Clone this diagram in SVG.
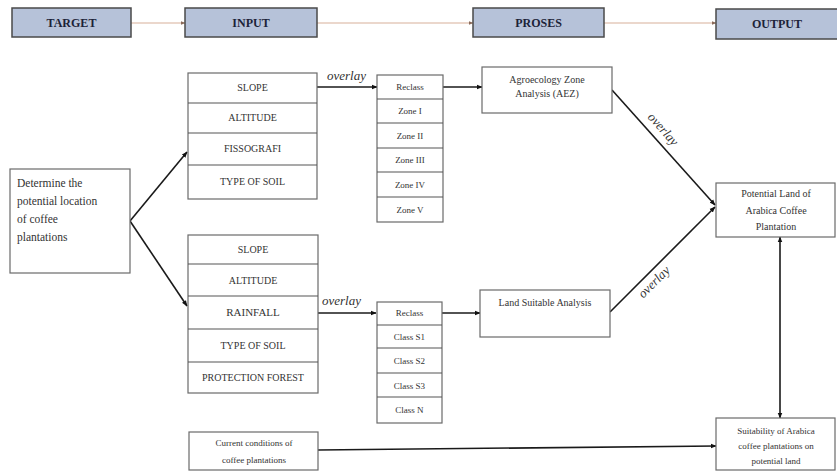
<svg xmlns="http://www.w3.org/2000/svg" width="837" height="472" viewBox="0 0 837 472">
<defs>
<marker id="ah" viewBox="0 0 10 10" refX="9" refY="5" markerWidth="6" markerHeight="6" orient="auto-start-reverse" markerUnits="userSpaceOnUse">
<path d="M0,1 L10,5 L0,9 z" fill="#111"/>
</marker>
<marker id="ahl" viewBox="0 0 10 10" refX="9" refY="5" markerWidth="5" markerHeight="5" orient="auto" markerUnits="userSpaceOnUse">
<path d="M0,1 L10,5 L0,9 z" fill="#8a6a5a"/>
</marker>
<style>
.hdr{fill:#b6c2d9;stroke:#4a4a4a;stroke-width:1.5}
.ht{font-family:"Liberation Serif",serif;font-weight:bold;font-size:12px;fill:#1c2238;text-anchor:middle}
.bx{fill:#fff;stroke:#6a6a6a;stroke-width:1.2}
.sep{stroke:#555;stroke-width:1.2}
.t{font-family:"Liberation Serif",serif;font-size:10px;fill:#333;text-anchor:middle}
.ts{font-family:"Liberation Serif",serif;font-size:9px;fill:#333;text-anchor:middle}
.tl{font-family:"Liberation Serif",serif;font-size:11.5px;fill:#333}
.ov{font-family:"Liberation Serif",serif;font-style:italic;font-size:13px;fill:#333}
.c{stroke:#1a1a1a;stroke-width:1.6;fill:none}
.hc{stroke:#d8b09a;stroke-width:1.2;fill:none}
</style>
</defs>
<rect width="837" height="472" fill="#fff"/>

<g id="connectors">
<line class="hc" x1="131" y1="23" x2="185" y2="23" marker-end="url(#ahl)"/>
<line class="hc" x1="317" y1="23" x2="473" y2="23" marker-end="url(#ahl)"/>
<line class="hc" x1="604" y1="23" x2="716" y2="23" marker-end="url(#ahl)"/>
<line class="c" x1="130" y1="221" x2="187" y2="152" marker-end="url(#ah)"/>
<line class="c" x1="130" y1="221" x2="187" y2="306" marker-end="url(#ah)"/>
<line class="c" x1="317" y1="87" x2="377" y2="87" marker-end="url(#ah)"/>
<line class="c" x1="443" y1="87" x2="482" y2="87" marker-end="url(#ah)"/>
<line class="c" x1="318" y1="313" x2="376" y2="313" marker-end="url(#ah)"/>
<line class="c" x1="442" y1="313" x2="480" y2="313" marker-end="url(#ah)"/>
<line class="c" x1="612" y1="90" x2="715" y2="205" marker-end="url(#ah)"/>
<line class="c" x1="610" y1="312" x2="715" y2="207" marker-end="url(#ah)"/>
<line class="c" x1="780" y1="237" x2="780" y2="418" marker-start="url(#ah)" marker-end="url(#ah)"/>
<line class="c" x1="318" y1="450" x2="716" y2="446" marker-end="url(#ah)"/>
<text class="ov" x="327" y="80">overlay</text>
<text class="ov" x="322" y="305">overlay</text>
<text class="ov" transform="translate(660,132) rotate(48.4)" text-anchor="middle">overlay</text>
<text class="ov" transform="translate(657,285) rotate(-45)" text-anchor="middle">overlay</text>
</g>

<g id="h-target"><rect class="hdr" x="12" y="8" width="119" height="29"/><text class="ht" x="71.5" y="27">TARGET</text></g>
<g id="h-input"><rect class="hdr" x="185" y="8" width="132" height="29"/><text class="ht" x="251" y="27">INPUT</text></g>
<g id="h-proses"><rect class="hdr" x="473" y="8" width="131" height="29"/><text class="ht" x="538.5" y="27">PROSES</text></g>
<g id="h-output"><rect class="hdr" x="716" y="9" width="125" height="30"/><text class="ht" x="777" y="28">OUTPUT</text></g>

<g id="target-box">
<rect class="bx" x="10" y="169" width="120" height="104"/>
<text class="tl" x="17" y="187">Determine the</text>
<text class="tl" x="17" y="205">potential location</text>
<text class="tl" x="17" y="223">of coffee</text>
<text class="tl" x="17" y="241">plantations</text>
</g>

<g id="input-1">
<rect class="bx" x="188" y="73" width="129" height="126"/>
<line class="sep" x1="188" y1="103" x2="317" y2="103"/>
<line class="sep" x1="188" y1="133" x2="317" y2="133"/>
<line class="sep" x1="188" y1="165" x2="317" y2="165"/>
<text class="t" x="252.5" y="91">SLOPE</text>
<text class="t" x="252.5" y="121">ALTITUDE</text>
<text class="t" x="252.5" y="152">FISSOGRAFI</text>
<text class="t" x="252.5" y="185">TYPE OF SOIL</text>
</g>

<g id="zones">
<rect class="bx" x="377" y="75" width="66" height="147"/>
<line class="sep" x1="377" y1="99" x2="443" y2="99"/>
<line class="sep" x1="377" y1="123" x2="443" y2="123"/>
<line class="sep" x1="377" y1="148" x2="443" y2="148"/>
<line class="sep" x1="377" y1="172" x2="443" y2="172"/>
<line class="sep" x1="377" y1="197" x2="443" y2="197"/>
<text class="ts" x="410" y="90">Reclass</text>
<text class="ts" x="410" y="114">Zone I</text>
<text class="ts" x="410" y="139">Zone II</text>
<text class="ts" x="410" y="163">Zone III</text>
<text class="ts" x="410" y="188">Zone IV</text>
<text class="ts" x="410" y="213">Zone V</text>
</g>

<g id="aez">
<rect class="bx" x="482" y="67" width="130" height="46"/>
<text class="t" x="547" y="83">Agroecology Zone</text>
<text class="t" x="547" y="97">Analysis (AEZ)</text>
</g>

<g id="input-2">
<rect class="bx" x="188" y="235" width="130" height="158"/>
<line class="sep" x1="188" y1="264" x2="318" y2="264"/>
<line class="sep" x1="188" y1="296" x2="318" y2="296"/>
<line class="sep" x1="188" y1="329" x2="318" y2="329"/>
<line class="sep" x1="188" y1="362" x2="318" y2="362"/>
<text class="t" x="253" y="253">SLOPE</text>
<text class="t" x="253" y="284">ALTITUDE</text>
<text class="t" x="253" y="316" style="font-size:11px">RAINFALL</text>
<text class="t" x="253" y="349">TYPE OF SOIL</text>
<text class="t" x="253" y="381">PROTECTION FOREST</text>
</g>

<g id="classes">
<rect class="bx" x="377" y="302" width="65" height="121"/>
<line class="sep" x1="377" y1="325" x2="442" y2="325"/>
<line class="sep" x1="377" y1="348" x2="442" y2="348"/>
<line class="sep" x1="377" y1="373" x2="442" y2="373"/>
<line class="sep" x1="377" y1="397" x2="442" y2="397"/>
<text class="ts" x="409.5" y="316">Reclass</text>
<text class="ts" x="409.5" y="340">Class S1</text>
<text class="ts" x="409.5" y="364">Class S2</text>
<text class="ts" x="409.5" y="389">Class S3</text>
<text class="ts" x="409.5" y="413">Class N</text>
</g>

<g id="land-suitable">
<rect class="bx" x="480" y="290" width="130" height="47"/>
<text class="t" x="545" y="306">Land Suitable Analysis</text>
</g>

<g id="potential-land">
<rect class="bx" x="716" y="183" width="119" height="54"/>
<text class="t" x="776" y="197">Potential Land of</text>
<text class="t" x="776" y="214">Arabica Coffee</text>
<text class="t" x="776" y="230">Plantation</text>
</g>

<g id="current">
<rect class="bx" x="189" y="432" width="129" height="38"/>
<text class="ts" x="254" y="446">Current conditions of</text>
<text class="ts" x="254" y="463">coffee plantations</text>
</g>

<g id="suitability">
<rect class="bx" x="716" y="418" width="119" height="52"/>
<text class="ts" x="776" y="434">Suitability of Arabica</text>
<text class="ts" x="776" y="449">coffee plantations on</text>
<text class="ts" x="776" y="464">potential land</text>
</g>
</svg>
